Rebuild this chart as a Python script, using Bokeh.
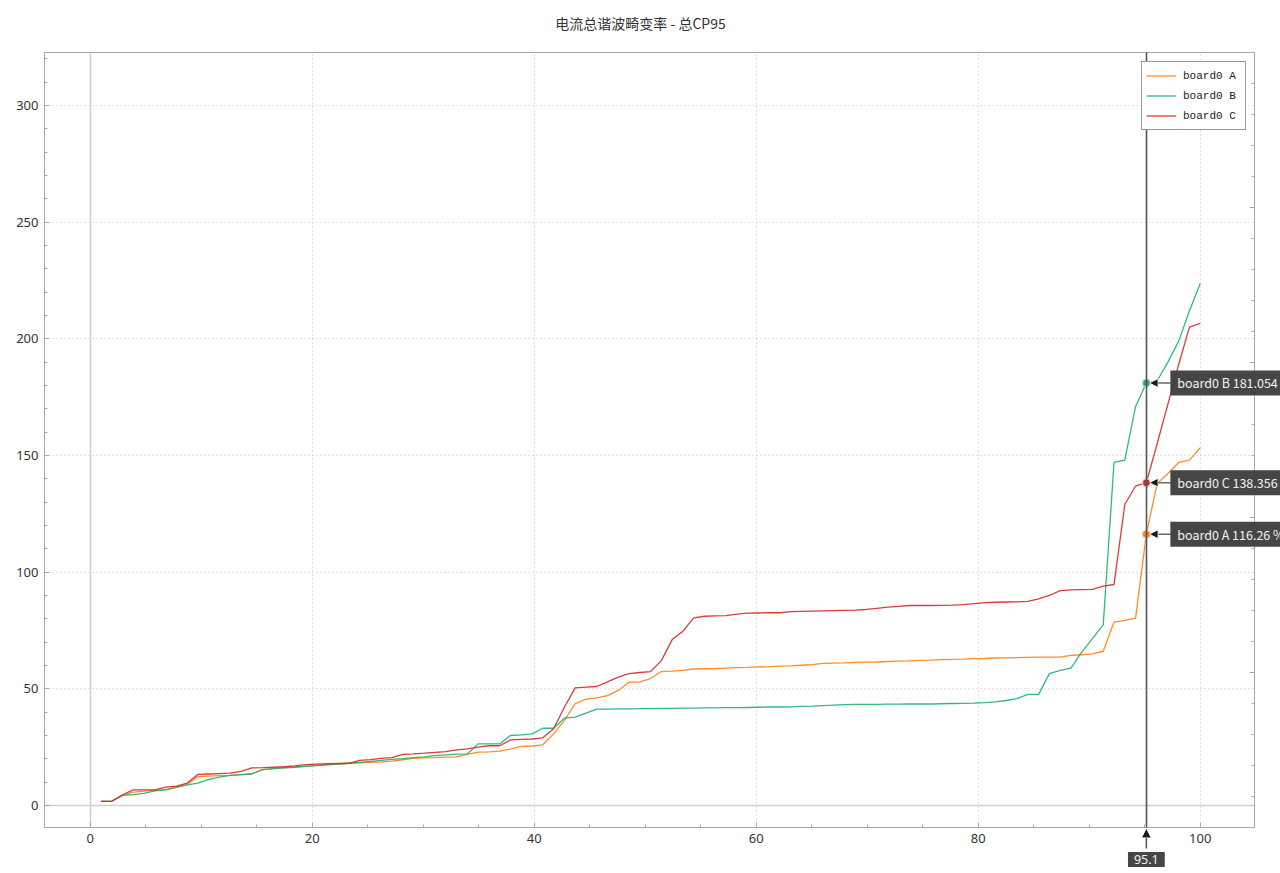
from bokeh.plotting import figure
from bokeh.models import (Range1d, SingleIntervalTicker, FixedTicker, LinearAxis, Grid,
                          Label, Arrow, NormalHead, CustomLabelingPolicy, CustomJSTickFormatter)
from bokeh.embed import file_html
from bokeh.resources import INLINE

# ---------------- data ----------------
# x axis: cumulative probability (%) of 103 sorted samples
n_points = 103
x = [100.0 * k / n_points for k in range(1, n_points + 1)]

board_a = [1.8, 1.8, 4.3, 5.7, 6.2, 6.5, 6.8, 7.8, 9.0, 12.4,
           12.6, 12.8, 12.9, 13.2, 13.6, 15.4, 15.8, 16.2, 16.5, 16.9,
           17.2, 17.5, 17.8, 18.1, 18.3, 18.5, 18.7, 19.0, 19.6, 20.2,
           20.4, 20.5, 20.7, 20.8, 21.9, 22.9, 23.0, 23.3, 24.2, 25.3,
           25.5, 26.0, 30.7, 36.5, 43.6, 45.6, 46.1, 47.1, 49.3, 52.8,
           53.0, 54.4, 57.4, 57.6, 57.9, 58.5, 58.6, 58.7, 58.9, 59.1,
           59.2, 59.4, 59.5, 59.7, 59.8, 60.1, 60.4, 60.9, 61.0, 61.1,
           61.3, 61.4, 61.5, 61.7, 61.9, 62.0, 62.2, 62.3, 62.5, 62.6,
           62.7, 62.9, 63.0, 63.2, 63.3, 63.4, 63.5, 63.6, 63.6, 63.6,
           64.3, 64.6, 65.0, 66.1, 78.6, 79.3, 80.3, 116.26, 138.0, 142.3,
           147.0, 148.0, 153.3]

board_b = [1.8, 1.8, 4.3, 4.7, 5.2, 6.3, 6.7, 7.9, 8.8, 9.6,
           11.2, 12.2, 12.9, 13.2, 13.5, 15.4, 15.8, 16.1, 16.4, 16.8,
           17.1, 17.4, 17.7, 18.1, 18.5, 18.9, 19.3, 19.8, 20.1, 20.5,
           20.8, 21.4, 21.7, 22.0, 22.1, 26.4, 26.4, 26.4, 30.0, 30.3,
           30.7, 33.1, 33.1, 37.4, 37.9, 39.6, 41.3, 41.3, 41.4, 41.4,
           41.5, 41.5, 41.6, 41.6, 41.7, 41.7, 41.8, 41.8, 41.9, 41.9,
           42.0, 42.1, 42.2, 42.2, 42.3, 42.5, 42.6, 42.8, 43.0, 43.2,
           43.3, 43.3, 43.3, 43.4, 43.4, 43.5, 43.5, 43.5, 43.6, 43.7,
           43.8, 43.9, 44.1, 44.4, 45.0, 45.8, 47.6, 47.6, 56.5, 57.9,
           58.9, 65.7, 71.5, 77.5, 147.0, 148.0, 171.0, 181.054, 182.0, 190.0,
           199.0, 212.0, 223.7]

board_c = [1.8, 1.8, 4.6, 6.7, 6.7, 6.7, 7.9, 8.3, 9.6, 13.3,
           13.5, 13.7, 13.9, 14.6, 16.1, 16.2, 16.4, 16.6, 17.0, 17.5,
           17.7, 17.9, 18.0, 18.1, 19.3, 19.7, 20.2, 20.5, 21.9, 22.1,
           22.4, 22.8, 23.1, 23.8, 24.3, 25.0, 25.6, 25.6, 28.1, 28.3,
           28.5, 29.0, 32.9, 42.1, 50.4, 50.7, 51.0, 53.0, 55.0, 56.5,
           57.0, 57.4, 62.1, 71.1, 74.7, 80.4, 81.1, 81.3, 81.4, 82.0,
           82.4, 82.5, 82.6, 82.6, 83.1, 83.2, 83.3, 83.4, 83.5, 83.6,
           83.7, 84.0, 84.5, 85.0, 85.3, 85.7, 85.7, 85.7, 85.8, 85.9,
           86.1, 86.5, 86.9, 87.1, 87.2, 87.3, 87.5, 88.5, 90.0, 92.1,
           92.4, 92.5, 92.6, 94.0, 94.7, 129.0, 136.9, 138.356, 155.0, 172.0,
           189.0, 205.0, 206.6]

series_names = ["board0 A", "board0 B", "board0 C"]
series_colors = ["#ff7f0e", "#1db26b", "#d62728"]

cursor_index = 97            # sample under the cursor (95.1 %)
cursor_label = "95.1"
cursor_texts = ["board0 A 116.26 %", "board0 B 181.054", "board0 C 138.356"]

title_text = "电流总谐波畸变率 - 总CP95"

# ---------------- layout constants (view and plot-box extents) ----------------
W, H = 1280, 873
X_VIEW = (-8.08, 107.23)      # whole canvas in x units
Y_VIEW = (-29.14, 344.96)     # whole canvas in y units
X_BOX = (-4.12, 104.89)       # plot box
Y_BOX = (-9.43, 322.67)
R_VIEW = (-14.84, 266.77)     # secondary (right) scale, unlabeled
R_BOX = (0, 250)

p = figure(width=W, height=H, title=None,
           x_range=Range1d(*X_VIEW), y_range=Range1d(*Y_VIEW),
           output_backend="svg", toolbar_location=None,
           min_border=0, min_border_left=0, min_border_right=0,
           min_border_top=0, min_border_bottom=0)
p.extra_y_ranges = {"r": Range1d(*R_VIEW)}

p.background_fill_color = "white"
p.border_fill_color = "white"
p.outline_line_color = None

axis_col = "#a8a8a8"
lab_col = "#333333"

hide_all_labels = CustomLabelingPolicy(code="""
for (let i = 0; i < bboxes.length; i++) { indices.unset(i) }
return indices
""")


def style_axis(ax, labels=True):
    ax.axis_line_color = axis_col
    ax.axis_line_width = 1
    ax.major_tick_line_color = axis_col
    ax.minor_tick_line_color = axis_col
    ax.major_tick_in = 5
    ax.major_tick_out = 0
    ax.minor_tick_in = 3
    ax.minor_tick_out = 0
    if labels:
        ax.major_label_text_font = "Noto Sans"
        ax.major_label_text_font_size = "13px"
        ax.major_label_text_color = lab_col
        ax.major_label_standoff = 6
    else:
        ax.formatter = CustomJSTickFormatter(code="return ''")
        ax.major_label_policy = hide_all_labels
        ax.major_label_standoff = 0


xax = p.xaxis[0]
xax.ticker = SingleIntervalTicker(interval=20, num_minor_ticks=4)
xax.fixed_location = Y_BOX[0]
xax.bounds = X_BOX
style_axis(xax)

yax = p.yaxis[0]
yax.ticker = SingleIntervalTicker(interval=50, num_minor_ticks=5)
yax.fixed_location = X_BOX[0]
yax.bounds = Y_BOX
style_axis(yax)

rax = LinearAxis(y_range_name="r", ticker=SingleIntervalTicker(interval=50, num_minor_ticks=5))
rax.fixed_location = X_BOX[1]
rax.bounds = R_BOX
style_axis(rax, labels=False)
p.add_layout(rax, "right")

tax = LinearAxis(ticker=FixedTicker(ticks=[]))
tax.fixed_location = Y_BOX[1]
tax.bounds = X_BOX
style_axis(tax, labels=False)
p.add_layout(tax, "above")

has_cross = "cross_bounds" in Grid.properties()

xg = p.xgrid[0]
xg.ticker = SingleIntervalTicker(interval=20)
yg = p.ygrid[0]
yg.ticker = SingleIntervalTicker(interval=50)
for g, cb in ((xg, Y_BOX), (yg, X_BOX)):
    g.grid_line_color = "#c4c4c4"
    g.grid_line_dash = "1 3"
    g.grid_line_width = 1
    if has_cross:
        g.cross_bounds = cb

# zero lines
for dim, cb in ((0, Y_BOX), (1, X_BOX)):
    zg = Grid(dimension=dim, ticker=FixedTicker(ticks=[0]),
              grid_line_color="#d0d0d0", grid_line_width=1.5)
    if has_cross:
        zg.cross_bounds = cb
    p.add_layout(zg)

# series
all_series = [board_a, board_b, board_c]
for name, vals, col in zip(series_names, all_series, series_colors):
    p.line(x, vals, line_color=col, line_width=1.3, line_alpha=0.9, legend_label=name)

# crosshair
cursor_x = x[cursor_index]
cursor_values = [s[cursor_index] for s in all_series]

cg = Grid(dimension=0, ticker=FixedTicker(ticks=[cursor_x]),
          grid_line_color="#555555", grid_line_width=1.6, level="overlay")
if has_cross:
    cg.cross_bounds = Y_BOX
p.add_layout(cg)

p.scatter([cursor_x] * 3, cursor_values, size=8, fill_color=series_colors,
          line_color="#d8d8d8", line_width=1.5, level="overlay")

for v, t in zip(cursor_values, cursor_texts):
    p.add_layout(Arrow(end=NormalHead(size=9, fill_color="#1a1a1a", line_color="white", line_width=1),
                       x_start=cursor_x + 2.2, y_start=v, x_end=cursor_x + 0.25, y_end=v,
                       line_color="#6a6a6a", line_width=1.5))
    p.add_layout(Label(x=cursor_x, y=v, x_offset=24, text=t,
                       text_align="left", text_baseline="middle",
                       text_color="#f2f2f2", text_font="Noto Sans CJK SC",
                       text_font_size="12.5px",
                       background_fill_color="#3c3c3c", background_fill_alpha=0.95,
                       padding=dict(left=7, right=7, top=3, bottom=3)))

# bottom cursor label with arrow pointing to the axis
p.add_layout(Arrow(end=NormalHead(size=10, fill_color="#1a1a1a", line_color="white", line_width=1),
                   x_start=cursor_x, y_start=Y_BOX[0] - 9.0, x_end=cursor_x, y_end=Y_BOX[0] - 0.2,
                   line_color="#555555", line_width=1.5))
p.add_layout(Label(x=cursor_x, y=14, y_units="screen", text=cursor_label,
                   text_align="center", text_baseline="middle",
                   text_color="#f2f2f2", text_font="Noto Sans",
                   text_font_size="12.5px",
                   background_fill_color="#3c3c3c", background_fill_alpha=0.95,
                   padding=dict(left=6, right=6, top=3, bottom=3)))

# title
p.add_layout(Label(x=W / 2, y=H - 22, x_units="screen", y_units="screen", text=title_text,
                   text_align="center", text_baseline="middle",
                   text_color="#333333", text_font="Noto Sans CJK SC",
                   text_font_size="14px"))

# legend
lg = p.legend[0]
lg.location = (1141, H - 130)
lg.border_line_color = "#333333"
lg.border_line_width = 1.2
lg.background_fill_color = "white"
lg.background_fill_alpha = 1
lg.label_text_font = "Liberation Mono"
lg.label_text_font_size = "11px"
lg.label_text_color = "#222222"
lg.glyph_width = 30
lg.glyph_height = 19
lg.label_height = 19
lg.label_width = 58
lg.label_standoff = 7
lg.padding = 4
lg.spacing = 1
lg.margin = 0

open("out.html", "w").write(file_html(p, INLINE))
